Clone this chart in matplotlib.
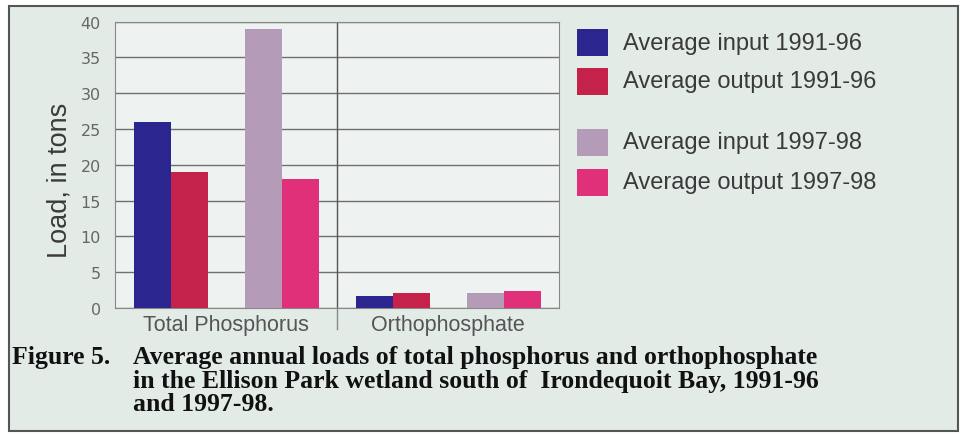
from matplotlib import pyplot as plt
from matplotlib.patches import Rectangle
import numpy as np

categories = ['Total Phosphorus', 'Orthophosphate']
series = ['Average input 1991-96', 'Average output 1991-96',
          'Average input 1997-98', 'Average output 1997-98']
input_9196 = [26, 1.6]
output_9196 = [19, 2.1]
input_9798 = [39, 2.1]
output_9798 = [18, 2.4]
colors = ['#2b2590', '#c4224a', '#b49cb8', '#e0307a']
yticks = [0, 5, 10, 15, 20, 25, 30, 35, 40]

fig = plt.figure(figsize=(9.64, 4.35), dpi=100)
fig.patch.set_facecolor('white')
# background panel with dark frame
fig.patches.append(Rectangle((0.009, 0.007), 0.985, 0.978, transform=fig.transFigure,
                             facecolor='#e3ebe7', edgecolor='#555555', lw=1.5, zorder=-5))

ax = fig.add_axes([0.119, 0.29, 0.461, 0.658])
ax.set_zorder(2)
ax.set_facecolor('#eef2f0')
x = np.arange(len(categories))
w = 0.166
offs = [-0.33, -0.164, 0.17, 0.336]
for vals, c, off, lab in zip([input_9196, output_9196, input_9798, output_9798], colors, offs, series):
    ax.bar(x + off, vals, w, color=c, label=lab, zorder=3)

ax.set_xlim(-0.5, 1.5)
ax.set_ylim(0, 40)
ax.set_yticks(yticks)
ax.yaxis.grid(True, color='#6f6f6f', lw=1)
ax.set_axisbelow(True)
ax.tick_params(axis='y', length=0, pad=10, labelsize=11.5, labelcolor='#666666')
ax.set_xticks([])
for s in ax.spines.values():
    s.set_color('#888888')
ax.axvline(0.5, color='#555555', lw=1)
ax.plot([0.5, 0.5], [0, -3.0], color='#888888', lw=1, clip_on=False)
for xi, cat in zip(x, categories):
    ax.text(xi, -0.9, cat, ha='center', va='top', fontsize=15.5, color='#555555',
            family='Liberation Sans')
ax.set_ylabel('Load, in tons', fontsize=19.5, color='#3a3a3a', family='Liberation Sans')
ax.yaxis.set_label_coords(-0.095, 0.45)

# legend
ys = [0.899, 0.811, 0.671, 0.579]
for hy, lab, c in zip(ys, series, colors):
    fig.patches.append(Rectangle((0.599, hy - 0.031), 0.032, 0.062, transform=fig.transFigure,
                                 facecolor=c, edgecolor='none', zorder=3))
    fig.text(0.646, hy, lab, fontsize=17, color='#3a3a3a', va='center', family='Liberation Sans')

cap = dict(fontsize=18.5, fontweight='bold', family='Liberation Serif', color='#111111', va='center')
fig.text(0.012, 0.179, 'Figure 5.', **cap)
fig.text(0.138, 0.179, 'Average annual loads of total phosphorus and orthophosphate', **cap)
fig.text(0.138, 0.124, 'in the Ellison Park wetland south of  Irondequoit Bay, 1991-96', **cap)
fig.text(0.138, 0.069, 'and 1997-98.', **cap)

fig.savefig('out.png', dpi=100)
